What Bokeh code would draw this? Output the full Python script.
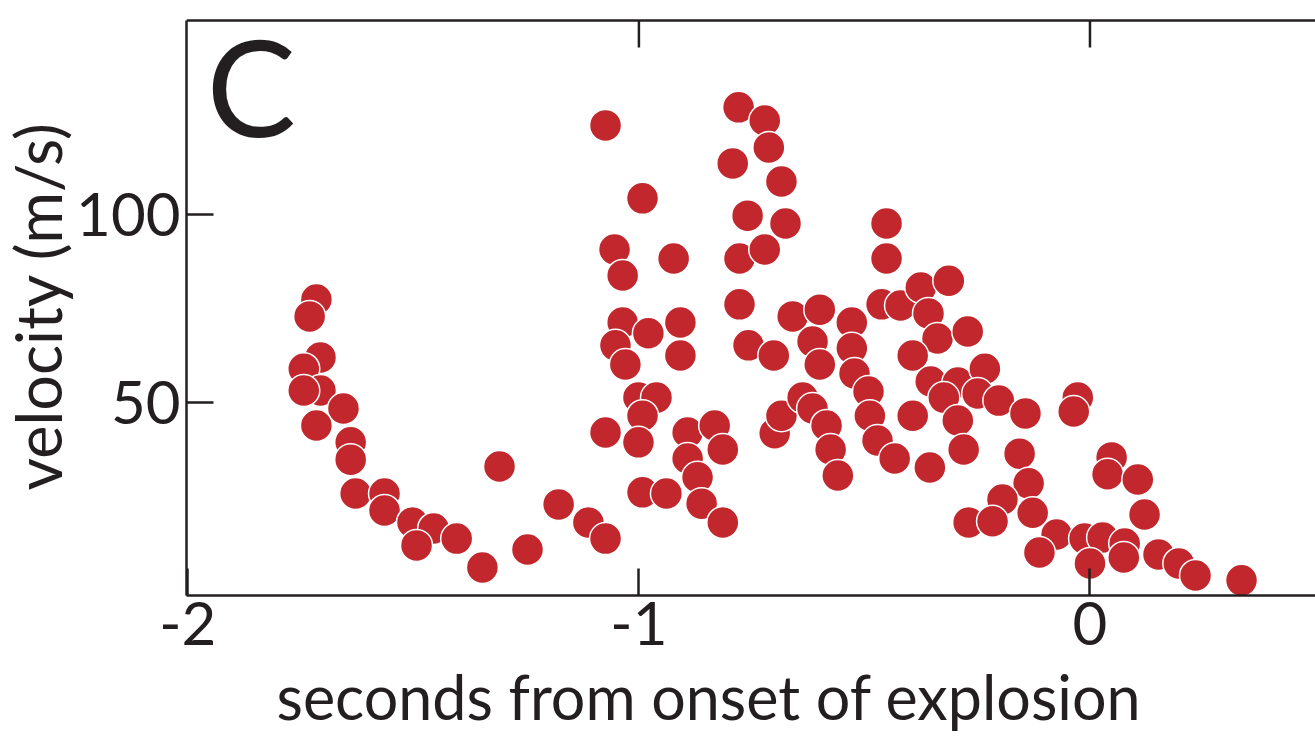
from bokeh.plotting import figure
from bokeh.models import Range1d, LinearAxis, FixedTicker, Title, Label, Span, ColumnDataSource
from bokeh.embed import file_html
from bokeh.resources import INLINE

# seconds from onset of explosion
time_s = [
    -1.715, -1.730, -1.706, -1.743, -1.706, -1.743, -1.655, -1.715, -1.639, -1.639,
    -1.628, -1.564, -1.564, -1.502, -1.455, -1.493, -1.404, -1.347, -1.309, -1.247,
    -1.178, -1.112, -1.074,
    -1.074, -0.992, -1.054, -1.036, -1.036, -0.979, -1.052, -1.030, -1.001, -0.961,
    -0.992, -1.074, -1.001, -0.992, -0.939, -0.923, -0.908, -0.908, -0.892, -0.832,
    -0.814, -0.892, -0.870, -0.861, -0.814,
    -0.779, -0.721, -0.712, -0.792, -0.684, -0.759, -0.675, -0.777, -0.721, -0.777,
    -0.757, -0.701, -0.659, -0.599, -0.615, -0.599, -0.528, -0.528, -0.522, -0.491,
    -0.451, -0.451, -0.462, -0.420, -0.375, -0.313, -0.358, -0.338, -0.271, -0.393,
    -0.353, -0.293, -0.233, -0.324, -0.249, -0.202, -0.143, -0.393, -0.293, -0.027,
    -0.036, -0.699, -0.684, -0.637, -0.615, -0.584, -0.575, -0.559, -0.488, -0.471,
    -0.433, -0.355, -0.280, -0.156, -0.136, -0.194, -0.127, -0.269, -0.216, -0.074,
    -0.112, -0.012, 0.028, 0.077, 0.000, 0.075, 0.048, 0.039, 0.106, 0.121,
    0.152, 0.197, 0.234, 0.336,
]

# velocity (m/s)
velocity = [
    77.4, 72.9, 62.0, 59.0, 53.2, 53.2, 48.4, 43.9, 39.4, 34.8,
    25.8, 25.8, 21.3, 18.1, 16.5, 12.0, 13.8, 6.1, 33.0, 10.9,
    22.9, 18.1, 13.8,
    123.7, 104.3, 90.7, 83.8, 71.3, 68.4, 65.2, 60.1, 51.3, 51.3,
    46.5, 42.0, 39.4, 26.1, 25.8, 88.3, 71.3, 62.5, 42.0, 43.9,
    37.5, 35.1, 30.1, 23.1, 18.1,
    128.5, 125.0, 117.8, 113.6, 108.8, 99.7, 97.6, 88.3, 90.7, 76.1,
    65.2, 62.5, 72.9, 74.7, 66.2, 60.1, 71.3, 64.4, 57.7, 52.9,
    97.6, 88.3, 76.1, 75.8, 80.6, 82.4, 73.7, 67.0, 68.9, 62.5,
    55.6, 55.3, 59.0, 51.3, 52.4, 50.5, 47.1, 46.5, 45.2, 51.3,
    47.6, 41.8, 46.5, 51.3, 48.4, 43.9, 37.5, 30.6, 46.5, 39.9,
    35.1, 32.7, 37.5, 36.4, 28.5, 24.2, 20.7, 18.1, 18.4, 14.9,
    10.1, 13.8, 14.1, 12.5, 7.2, 8.8, 35.4, 30.9, 29.5, 20.2,
    9.6, 7.2, 4.0, 2.7,
]

x_ticks = [-2, -1, 0]
x_tick_labels = {-2: "-2", -1: "-1", 0: "0"}
top_ticks = [-1, 0]
y_ticks = [50, 100]
y_tick_labels = {50: "50", 100: "100"}
x_title = "seconds from onset of explosion"
y_title = "velocity  (m/s)"
panel_letter = "C"

X_MIN, X_MAX = -2.003, 0.5
Y_MIN, Y_TOP = -1.33, 151.6       # plotted box
PX_PER_Y = 3.76
Y_PAD = 20 / PX_PER_Y             # blank strip above the box (holds the letter's text box)
TICK_LEN = 27

INK = "#231F20"
RED = "#C1272D"
FONT = "Lato"

p = figure(
    width=1315, height=745,
    x_range=Range1d(X_MIN, X_MAX), y_range=Range1d(Y_MIN, Y_TOP + Y_PAD),
    x_axis_location=None, y_axis_location=None,
    output_backend="svg", toolbar_location=None,
    min_border_left=186, min_border_right=0, min_border_top=0, min_border_bottom=150,
)
p.outline_line_color = None
p.xgrid.visible = False
p.ygrid.visible = False
p.background_fill_color = "white"
p.border_fill_color = "white"

src = ColumnDataSource(dict(t=time_s, v=velocity))
p.scatter("t", "v", source=src, marker="circle", size=32,
          fill_color=RED, line_color="white", line_width=1.5)

def style_axis(ax):
    ax.axis_line_color = INK
    ax.axis_line_width = 2.5
    ax.major_tick_line_color = INK
    ax.major_tick_line_width = 2.5
    ax.major_tick_in = TICK_LEN
    ax.major_tick_out = 0
    ax.minor_tick_line_color = None
    ax.major_label_text_font = FONT
    ax.major_label_text_font_size = "60px"
    ax.major_label_text_color = INK

left = LinearAxis(ticker=FixedTicker(ticks=y_ticks), major_label_overrides=y_tick_labels,
                  bounds=(Y_MIN, Y_TOP))
style_axis(left)
left.major_label_standoff = 6
p.add_layout(left, "left")

ylabel = Title(text=y_title, align="center", vertical_align="top", offset=-12,
               text_font=FONT, text_font_size="63px", text_font_style="normal",
               text_color=INK, standoff=-6)
p.add_layout(ylabel, "left")

bottom = LinearAxis(ticker=FixedTicker(ticks=x_ticks), major_label_overrides=x_tick_labels)
style_axis(bottom)
bottom.major_label_standoff = 6
p.add_layout(bottom, "below")

# top edge of the box with inward ticks
p.add_layout(Span(location=Y_TOP, dimension="width", line_color=INK, line_width=2.5))
p.segment(x0=top_ticks, x1=top_ticks, y0=[Y_TOP] * len(top_ticks),
          y1=[Y_TOP - TICK_LEN / PX_PER_Y] * len(top_ticks),
          line_color=INK, line_width=2.5)

xlabel = Title(text=x_title, align="left", offset=90,
               text_font=FONT, text_font_size="61px", text_font_style="normal",
               text_color=INK, standoff=20)
p.add_layout(xlabel, "below")

letter = Label(x=20, y=510, x_units="screen", y_units="screen", text=panel_letter,
               text_font=FONT, text_font_size="134px", text_color=INK,
               text_baseline="middle")
p.add_layout(letter)

open("out.html", "w").write(file_html(p, INLINE))
